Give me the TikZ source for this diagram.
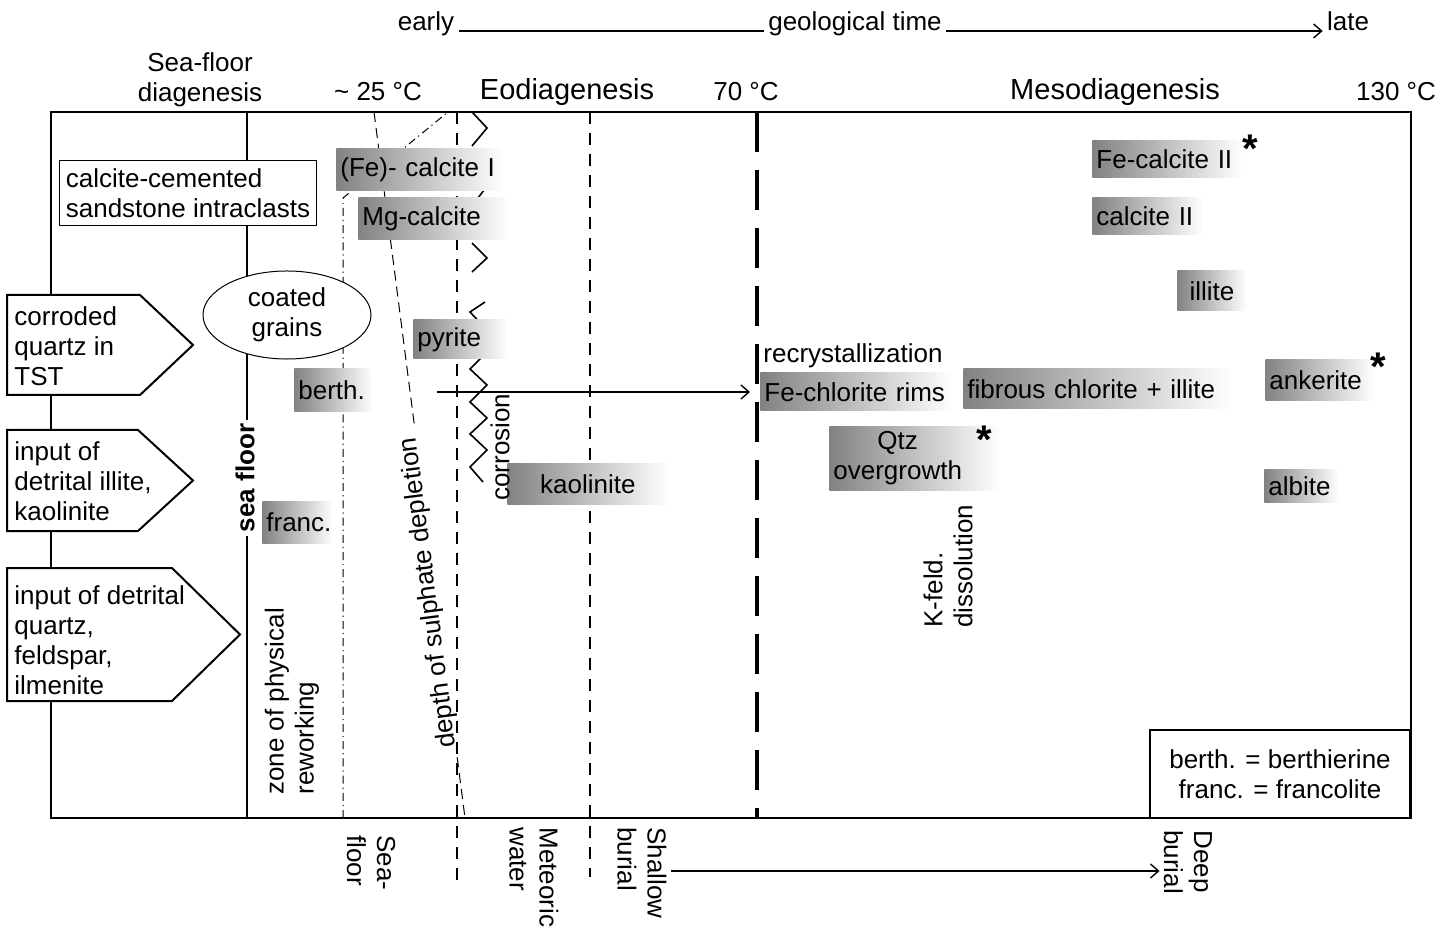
\documentclass[tikz,border=0pt]{standalone}
\usepackage{fontspec}
\setmainfont{Liberation Sans}
\usepackage{tikz}
\usetikzlibrary{shapes.geometric, arrows.meta, positioning, calc}
\definecolor{mingrey}{RGB}{130, 130, 130}

\begin{document}
\begin{tikzpicture}[x=0.5pt, y=-0.5pt,
        every node/.style={font=\fontsize{13}{15}\selectfont, inner sep=2pt},
        mineral/.style={rectangle, left color=mingrey, right color=white, anchor=west, align=left, inner xsep=2pt, inner ysep=0pt},
        source/.style={draw, line width=1pt, fill=white, line join=miter},
        stage/.style={font=\fontsize{14.5}{17}\selectfont},
        vert/.style={rotate=90, align=left, anchor=west},
        downtext/.style={rotate=-90, align=left, anchor=west},
        mark star/.style={font=\fontsize{20}{20}\selectfont\bfseries, anchor=north, inner sep=0pt},
        frame/.style={line width=1.25pt},
        eodash/.style={line width=1.2pt, dash pattern=on 6pt off 4.5pt},
        hotdash/.style={line width=2pt, dash pattern=on 20pt off 9pt},
        sulph/.style={line width=0.5pt, dash pattern=on 5pt off 3pt},
        dashdot/.style={line width=0.5pt, dash pattern=on 4pt off 2pt on 0.6pt off 2pt},
        zig/.style={line width=0.8pt, line join=miter},
        line/.style={draw, line width=0.7pt, -{Straight Barb[length=4pt, width=7pt]}}]

    \useasboundingbox (0,0) rectangle (1455,940);

    % Frame and time lines
    \draw[frame] (51,112) rectangle (1411,818);
    \draw[line width=1pt] (247,112) -- (247,818);
    \draw[dashdot] (343,818) -- (343,198) -- (448,112);
    \coordinate (sdtop) at (374,112);
    \coordinate (sdbot) at (465,818);
    \draw[sulph] (sdtop) -- ($(sdtop)!0.443!(sdbot)$);
    \draw[sulph] ($(sdtop)!0.914!(sdbot)$) -- (sdbot);
    \draw[eodash] (457,112) -- (457,885);
    \draw[eodash, line width=1pt] (590,112) -- (590,877);
    \draw[hotdash] (757,112) -- (757,818);

    % Corrosion zigzag
    \draw[zig] (472,112) -- (487,128) -- (472,146);
    \draw[zig] (487,186) -- (472,206);
    \draw[zig] (472,243) -- (487,258) -- (472,272);
    \draw[zig] (485,302) -- (470,312) -- (487,330) -- (471,342) -- (487,352) -- (470,369) -- (487,385)
        -- (470,402) -- (487,418) -- (470,434) -- (487,450) -- (470,467) -- (483,482);

    % Source boxes
    \draw[source] (7,295) -- (140,295) -- (193,345) -- (140,395) -- (7,395) -- cycle;
    \draw[source] (7,430) -- (138,430) -- (193,480.5) -- (138,531) -- (7,531) -- cycle;
    \draw[source] (7,568) -- (172,568) -- (240,634.5) -- (172,701) -- (7,701) -- cycle;
    \node[anchor=west, align=left] (corroded) at (10,346) {corroded\\quartz in\\TST};
    \node[anchor=west, align=left] (clays) at (10,481) {input of\\detrital illite,\\kaolinite};
    \node[anchor=west, align=left] (detrital) at (10,640) {input of detrital\\quartz,\\feldspar,\\ilmenite};

    % Sea-floor grains
    \node[draw, line width=0.5pt, fill=white, align=left, inner xsep=3pt, minimum height=32.5pt] (intraclasts) at (188,193.5) {calcite-cemented\\sandstone intraclasts};
    \node[ellipse, draw, line width=0.5pt, fill=white, minimum width=84pt, minimum height=42.5pt, align=center] (coated) at (287,315) {coated\\grains};
    \node[rotate=90, fill=white, font=\fontsize{13}{15}\selectfont\bfseries] (seafloor) at (245,478) {sea floor};

    % Minerals
    \node[mineral, text width=79.5pt, minimum height=21pt] (fecalcI) at (336,170) {(Fe)- calcite I};
    \node[mineral, text width=71pt, minimum height=21pt] (mgcalc) at (358,219) {Mg-calcite};
    \node[mineral, text width=43pt, minimum height=19.5pt] (pyrite) at (413,339.5) {pyrite};
    \node[mineral, text width=35pt, minimum height=21.5pt] (berth) at (294,390.5) {berth.};
    \node[mineral, text width=31.5pt, minimum height=20.5pt] (franc) at (262,522.5) {franc.};
    \node[mineral, text width=76.5pt, minimum height=20.5pt, align=center] (kaol) at (507,484.5) {kaolinite};
    \node[mineral, text width=92.5pt, minimum height=19pt] (fechl) at (760,392) {Fe-chlorite rims};
    \node[mineral, text width=130.5pt, minimum height=20pt] (fibrous) at (963,389) {fibrous chlorite + illite};
    \node[mineral, text width=81.5pt, minimum height=32pt] (qtz) at (829,459) {\begin{tabular}{@{}c@{}}Qtz\\overgrowth\end{tabular}};
    \node[mineral, text width=71pt, minimum height=18.5pt] (fecalcII) at (1092,159.5) {Fe-calcite II};
    \node[mineral, text width=51.5pt, minimum height=18.5pt] (calcII) at (1092,216.5) {calcite II};
    \node[mineral, text width=30.5pt, minimum height=20pt, align=center] (illite) at (1177,291) {illite};
    \node[mineral, text width=50pt, minimum height=20.5pt] (ankerite) at (1265,380.5) {ankerite};
    \node[mineral, text width=33pt, minimum height=16.5pt] (albite) at (1264,486.5) {albite};
    \node[mark star] (starA) at (1250,135) {*};
    \node[mark star] (starB) at (1378,353) {*};
    \node[mark star] (starC) at (984,426) {*};

    % Arrows
    \coordinate (transfer) at (437,392);
    \path[line, shorten >=5pt] (transfer) -- (fechl.west);

    % Labels
    \node[anchor=west] (recryst) at (759,356) {recrystallization};
    \node[rotate=97.3, anchor=base] (sulphate) at ($(sdtop)!0.68!(sdbot)$) {depth of sulphate depletion};
    \node[vert] (reworking) at (292,799) {zone of physical\\reworking};
    \node[rotate=90] (corrosion) at (500,447) {corrosion};
    \node[vert] (kfeld) at (948,632) {K-feld.\\dissolution};
    \node[draw, line width=1pt, fill=white, minimum width=130pt, minimum height=44pt, align=center] (legend) at (1280,774) {berth. = berthierine\\franc. = francolite};

    % Header
    \node[anchor=base] (early) at (426,31) {early};
    \node[anchor=base] (geotime) at (855,31) {geological time};
    \node[anchor=base] (late) at (1348,31) {late};
    \draw[line width=0.7pt] (early.base east) -- (geotime.base west);
    \path[line] (geotime.base east) -- (late.base west);
    \node[align=center] (sfdiag) at (200,80) {Sea-floor\\diagenesis};
    \node (t25) at (378,92) {\textasciitilde{} 25 °C};
    \node[stage] (eodiag) at (567,92) {Eodiagenesis};
    \node (t70) at (746,92) {70 °C};
    \node[stage] (mesodiag) at (1115,92) {Mesodiagenesis};
    \node (t130) at (1396,92) {130 °C};

    % Burial stages
    \node[downtext] (seafl) at (371,831) {Sea-\\floor};
    \node[downtext] (meteoric) at (534,823) {Meteoric\\water};
    \node[downtext] (shallow) at (642,823) {Shallow\\burial};
    \node[downtext] (deep) at (1188,826) {Deep\\burial};
    \coordinate (burial) at (0,871);
    \path[line] (shallow.north |- burial) -- (deep.south |- burial);
\end{tikzpicture}
\end{document}
